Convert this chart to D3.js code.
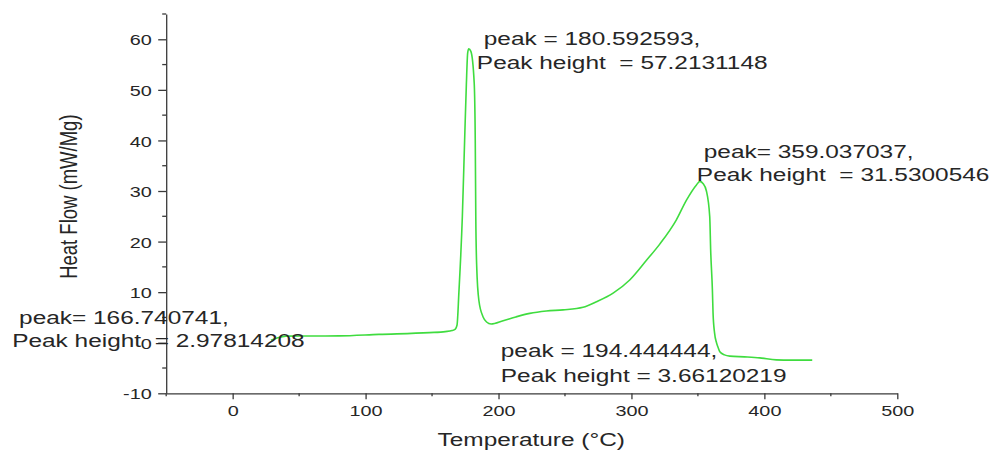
<!DOCTYPE html>
<html>
<head>
<meta charset="utf-8">
<script src="https://cdn.jsdelivr.net/npm/d3@7/dist/d3.min.js"></script>
<style>
  html, body { margin: 0; padding: 0; background: #ffffff; }
  svg { display: block; }
  text { font-family: "Liberation Sans", Arial, sans-serif; fill: #262626; white-space: pre; }
</style>
</head>
<body>
<svg id="chart" width="998" height="450"></svg>
<script>
// ---- data ----
const temperature = [28.8, 34, 40, 80, 110, 148, 160, 165, 167.5, 168.8, 170.2, 172.8, 174.5, 175.8, 176.8, 177.6,
  179.2, 181.7, 182.5, 182.9, 183.6, 185.2, 188.4, 191, 194.4, 203.5, 213, 223.5, 236, 248.6, 263.6, 273.7, 286.2,
  298.7, 311.3, 321.3, 333.8, 341.4, 348.9, 351.4, 353.8, 356.4, 358.9, 359.6, 360.9, 361.4, 362.5, 364, 365, 366.5,
  370, 374, 385, 396.5, 409, 420, 436];
const heatFlow = [0.5, 1.0, 1.3, 1.35, 1.65, 2.0, 2.2, 2.4, 2.7, 3.5, 10, 25, 40, 51, 57.3, 58.1,
  57.6, 51.4, 40, 25, 15, 8.4, 5.1, 4.1, 3.7, 4.35, 5.1, 5.8, 6.27, 6.5, 7.0, 8.1, 9.8,
  12.4, 16.3, 19.5, 24.3, 28.2, 31.2, 31.9, 31.5, 30.0, 24.9, 18.3, 10.4, 5.8, 2.0, 0, -0.8, -1.8,
  -2.4, -2.65, -2.8, -3.0, -3.4, -3.45, -3.45];

const xTicks = [0, 100, 200, 300, 400, 500];
const xMinorTicks = [-50, 50, 150, 250, 350, 450];
const yTicks = [-10, 0, 10, 20, 30, 40, 50, 60];
const yMinorTicks = [-5, 5, 15, 25, 35, 45, 55, 65];
const xDomain = [-50, 500];
const yDomain = [-10, 65];

const xTitle = "Temperature (°C)";
const yTitle = "Heat Flow (mW/Mg)";

// annotation text lines, anchored in data units (temperature, heat flow)
const annotationText = [
  "peak = 180.592593,", "Peak height  = 57.2131148",
  "peak= 359.037037,", "Peak height  = 31.5300546",
  "peak= 166.740741,", "Peak height  = 2.97814208",
  "peak = 194.444444,", "Peak height = 3.66120219"
];
const annotationT = [188.9, 183.7, 354.4, 349.2, -160.7, -165.9, 201.7, 201.7];
const annotationV = [58.87, 54.12, 36.46, 31.98, 3.64, -0.79, -2.89, -7.71];

// ---- drawing ----
const svg = d3.select("#chart");
const S = 1.32;       // horizontal text stretch of the reference
const axisColor = "#3a3a3a";

const x = d3.scaleLinear().domain(xDomain).range([166.2, 897.3]);
const y = d3.scaleLinear().domain(yDomain).range([393.3, 14]);

// curve
const line = d3.line()
  .x((d, i) => x(temperature[i]))
  .y((d, i) => y(heatFlow[i]))
  .curve(d3.curveMonotoneX);

svg.append("path")
  .datum(heatFlow)
  .attr("d", line)
  .attr("fill", "none")
  .attr("stroke", "#3fdc3f")
  .attr("stroke-width", 1.6)
  .attr("stroke-linejoin", "round");

const fmt = d => String(d);

// x axis
const gx = svg.append("g").attr("transform", `translate(0,${y(yDomain[0])})`);
gx.call(d3.axisBottom(x).tickValues(xTicks).tickSize(6).tickSizeOuter(0).tickFormat(fmt));
gx.append("g").selectAll("line").data(xMinorTicks).join("line")
  .attr("x1", d => x(d)).attr("x2", d => x(d)).attr("y1", 0).attr("y2", 3)
  .attr("stroke", axisColor).attr("stroke-width", 1.3);

// y axis
const gy = svg.append("g").attr("transform", `translate(${x(xDomain[0])},0)`);
gy.call(d3.axisLeft(y).tickValues(yTicks).tickSize(8).tickSizeOuter(0).tickFormat(fmt));
gy.append("g").selectAll("line").data(yMinorTicks).join("line")
  .attr("y1", d => y(d)).attr("y2", d => y(d)).attr("x1", 0).attr("x2", -4)
  .attr("stroke", axisColor).attr("stroke-width", 1.3);

[gx, gy].forEach(g => {
  g.select(".domain").attr("stroke", axisColor).attr("stroke-width", 1.3);
  g.selectAll(".tick line").attr("stroke", axisColor).attr("stroke-width", 1.3);
  g.selectAll(".tick text").attr("fill", "#262626").style("font-size", "15.5px")
    .style("font-family", '"Liberation Sans", Arial, sans-serif');
});

gx.selectAll(".tick text")
  .attr("y", 0).attr("dy", 0).attr("x", 0)
  .attr("text-anchor", "middle")
  .attr("transform", `translate(0,22.5) scale(1.28,1)`);

gy.selectAll(".tick text")
  .attr("x", 0).attr("dy", "0.36em")
  .attr("text-anchor", "end")
  .attr("transform", `translate(-14.5,0) scale(1.28,1)`);

// axis titles
svg.append("text")
  .attr("text-anchor", "middle")
  .attr("transform", `translate(${(x(xDomain[0]) + x(xDomain[1])) / 2 - 0.5},446) scale(${S},1)`)
  .style("font-size", "18.5px")
  .text(xTitle);

svg.append("text")
  .attr("text-anchor", "middle")
  .attr("dy", "0.36em")
  .attr("transform", `translate(68,${(y(yDomain[0]) + y(yDomain[1])) / 2 - 7}) scale(${S},1) rotate(-90)`)
  .style("font-size", "18.5px")
  .text(yTitle);

// annotations
svg.append("g").selectAll("text").data(annotationText).join("text")
  .attr("transform", (d, i) => `translate(${x(annotationT[i])},${y(annotationV[i])}) scale(${S},1)`)
  .style("font-size", "18.5px")
  .text(d => d);
</script>
</body>
</html>
